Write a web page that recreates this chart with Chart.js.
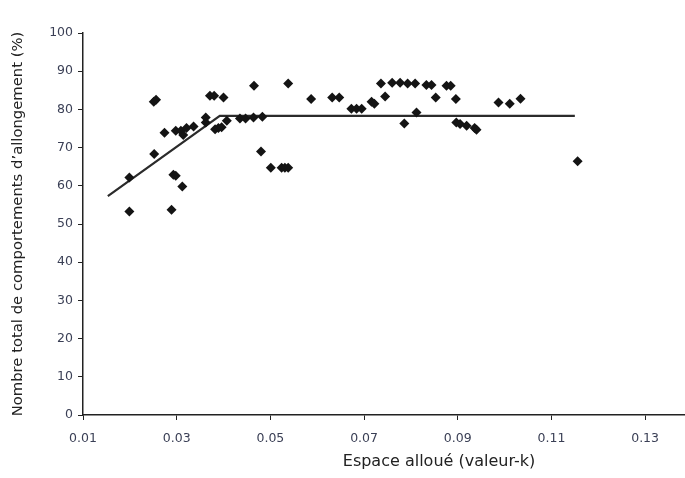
<!DOCTYPE html>
<html lang="fr">
<head>
<meta charset="utf-8">
<title>Espace alloué et comportements d'allongement</title>
<script src="https://cdn.jsdelivr.net/npm/chart.js@4/dist/chart.umd.min.js"></script>
<style>
    html, body { margin: 0; padding: 0; background: #fff; overflow: hidden; }
    /* the original plot area runs past the right edge of the crop */
    #wrap { width: 800px; height: 478px; position: relative; }
</style>
</head>
<body>
<div id="wrap"><canvas id="chart-allongement"></canvas></div>
<script>
// Observations (espace alloué k, % de comportements d'allongement)
const obsK = [
    0.0199, 0.0199, 0.0252, 0.0251, 0.0256, 0.0274, 0.0289, 0.0293, 0.0298, 0.0298,
    0.0309, 0.0312, 0.0314, 0.0321, 0.0336, 0.0362, 0.0362, 0.0371, 0.0380, 0.0400,
    0.0382, 0.0389, 0.0396, 0.0407, 0.0435, 0.0447, 0.0464, 0.0465, 0.0483, 0.0480,
    0.0501, 0.0524, 0.0531, 0.0538, 0.0538, 0.0587, 0.0632, 0.0647, 0.0673, 0.0684,
    0.0695, 0.0716, 0.0722, 0.0736, 0.0745, 0.0760, 0.0777, 0.0786, 0.0793, 0.0809,
    0.0812, 0.0833, 0.0844, 0.0853, 0.0876, 0.0885, 0.0896, 0.0897, 0.0905, 0.0919,
    0.0936, 0.0940, 0.0987, 0.1011, 0.1034, 0.1156
];
const obsPct = [
    62.2, 53.3, 68.3, 82.0, 82.5, 73.9, 53.7, 62.9, 62.6, 74.4,
    74.4, 59.8, 73.3, 75.1, 75.5, 77.9, 76.6, 83.6, 83.6, 83.1,
    74.8, 75.1, 75.3, 77.0, 77.6, 77.6, 77.9, 86.2, 78.1, 69.0,
    64.7, 64.7, 64.7, 64.7, 86.8, 82.7, 83.1, 83.1, 80.2, 80.2,
    80.2, 82.0, 81.5, 86.8, 83.4, 87.0, 87.0, 76.3, 86.8, 86.8,
    79.2, 86.4, 86.4, 83.1, 86.2, 86.2, 82.7, 76.6, 76.2, 75.7,
    75.1, 74.7, 81.8, 81.5, 82.8, 66.4
];

// Modèle segmenté (pente puis plateau)
const fitK = [0.0153, 0.0392, 0.1150];
const fitPct = [57.3, 78.3, 78.3];

// Graduations
const xTicks = [0.01, 0.03, 0.05, 0.07, 0.09, 0.11, 0.13];
const yTicks = [0, 10, 20, 30, 40, 50, 60, 70, 80, 90, 100];

const X_MIN = 0.01;
const X_MAX = 0.162;

const tickFont = { family: "'DejaVu Sans', sans-serif", size: 12.5 };

function toPoints(xs, ys) {
    return xs.map((x, i) => ({ x, y: ys[i] }));
}

function renderChart() {
    const ctx = document.getElementById('chart-allongement').getContext('2d');

    new Chart(ctx, {
        type: 'scatter',
        data: {
            datasets: [
                {
                    label: 'Observations',
                    data: toPoints(obsK, obsPct),
                    pointStyle: 'rectRot',
                    pointRadius: 5,
                    backgroundColor: '#141414',
                    borderColor: '#141414',
                    borderWidth: 0,
                    order: 1
                },
                {
                    label: 'Modèle',
                    type: 'line',
                    data: toPoints(fitK, fitPct),
                    borderColor: '#2b2b2b',
                    borderWidth: 2.2,
                    pointRadius: 0,
                    fill: false,
                    tension: 0,
                    order: 2
                }
            ]
        },
        options: {
            responsive: true,
            maintainAspectRatio: false,
            animation: false,
            layout: { padding: { top: 33, right: 0, left: 0, bottom: 0 } },
            plugins: {
                legend: { display: false },
                tooltip: { enabled: false }
            },
            scales: {
                x: {
                    type: 'linear',
                    min: X_MIN,
                    max: X_MAX,
                    afterBuildTicks: axis => { axis.ticks = xTicks.map(v => ({ value: v })); },
                    afterFit: axis => { axis.height = 63; },
                    ticks: {
                        color: '#3a3f55',
                        font: tickFont,
                        padding: 11,
                        maxRotation: 0,
                        callback: v => v.toFixed(2)
                    },
                    grid: {
                        drawOnChartArea: false,
                        color: '#222',
                        tickLength: 5,
                        lineWidth: 1
                    },
                    border: { color: '#222', width: 1.5 },
                    title: {
                        display: true,
                        text: 'Espace alloué (valeur-k)',
                        color: '#222',
                        font: { family: "'DejaVu Sans', sans-serif", size: 16 },
                        padding: { top: 0, bottom: 7 }
                    }
                },
                y: {
                    type: 'linear',
                    min: 0,
                    max: 100,
                    afterBuildTicks: axis => { axis.ticks = yTicks.map(v => ({ value: v })); },
                    afterFit: axis => { axis.width = 83; },
                    ticks: {
                        color: '#3a3f55',
                        font: tickFont,
                        padding: 5
                    },
                    grid: {
                        drawOnChartArea: false,
                        color: '#222',
                        tickLength: 5,
                        lineWidth: 1
                    },
                    border: { color: '#222', width: 1.5 },
                    title: {
                        display: true,
                        text: 'Nombre total de comportements d’allongement (%)',
                        color: '#222',
                        font: { family: "'DejaVu Sans', sans-serif", size: 14.8 },
                        padding: { top: 9, bottom: 0 }
                    }
                }
            }
        }
    });
}

renderChart();
</script>
</body>
</html>
